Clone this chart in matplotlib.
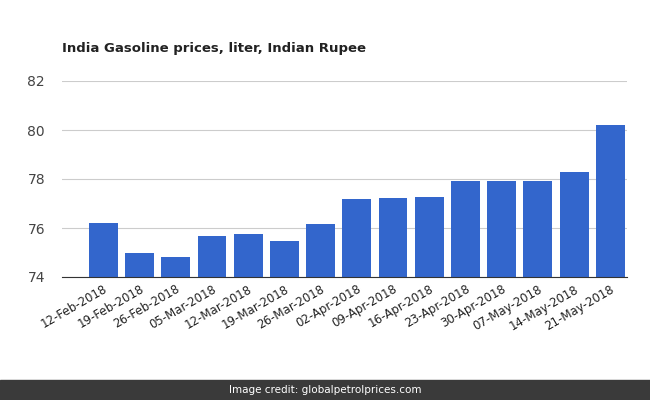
import matplotlib
matplotlib.use("Agg")
import matplotlib.pyplot as plt
from matplotlib.patches import Rectangle

dates = ["12-Feb-2018","19-Feb-2018","26-Feb-2018","05-Mar-2018","12-Mar-2018","19-Mar-2018",
         "26-Mar-2018","02-Apr-2018","09-Apr-2018","16-Apr-2018","23-Apr-2018","30-Apr-2018",
         "07-May-2018","14-May-2018","21-May-2018"]
prices = [76.20, 74.98, 74.82, 75.67, 75.75, 75.47, 76.16, 77.18, 77.22, 77.27,
          77.92, 77.92, 77.92, 78.29, 80.22]
yticks = [74, 76, 78, 80, 82]

fig = plt.figure(figsize=(6.5, 4), dpi=100)
ax = fig.add_axes([0.095, 0.3075, 0.87, 0.49])
x = range(len(dates))
ax.bar(x, prices, width=0.8, color="#3366cc", zorder=2)
ax.set_ylim(74, 82)
ax.set_xlim(-1.15, len(dates) - 0.53)
ax.set_yticks(yticks)
ax.set_yticklabels([str(t) for t in yticks], fontsize=10, color="#444444")
ax.yaxis.grid(True, color="#cccccc", linewidth=0.8, zorder=0)
ax.set_xticks(list(x))
ax.set_xticklabels(dates, rotation=30, ha="right", rotation_mode="anchor", fontsize=8.5, color="#222222")
for s in ["top", "right", "left"]:
    ax.spines[s].set_visible(False)
ax.spines["bottom"].set_color("#333333")
ax.tick_params(length=0, pad=4)
ax.tick_params(axis="y", pad=12)

fig.text(0.095, 0.87, "India Gasoline prices, liter, Indian Rupee", fontsize=9.5, fontweight="bold", color="#222222")
fig.patches.append(Rectangle((0, 0), 1, 0.05, transform=fig.transFigure, color="#3a3a3a", zorder=0))
fig.text(0.5, 0.025, "Image credit: globalpetrolprices.com", ha="center", va="center", fontsize=7.5, color="white")
fig.savefig("out.png", dpi=100)
